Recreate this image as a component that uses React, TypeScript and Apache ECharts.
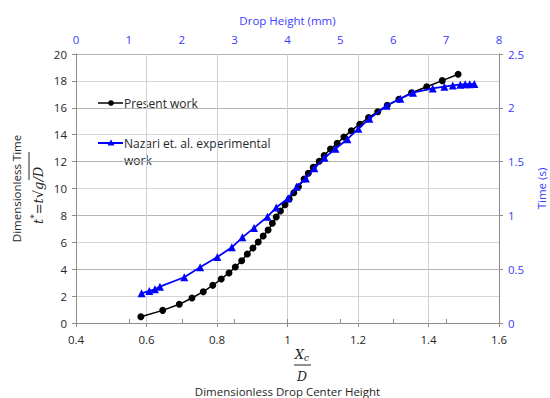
import React, { useEffect, useRef } from "react";
import * as echarts from "echarts";

// Present work: dimensionless center height (Xc/D) vs dimensionless time t*
const presentX = [0.584, 0.646, 0.693, 0.729, 0.761, 0.788, 0.812, 0.834, 0.852, 0.870, 0.886, 0.902, 0.917, 0.931, 0.945, 0.957, 0.968, 0.980, 0.993, 1.005, 1.018, 1.031, 1.047, 1.059, 1.073, 1.090, 1.104, 1.122, 1.141, 1.160, 1.181, 1.205, 1.230, 1.256, 1.283, 1.316, 1.352, 1.395, 1.439, 1.484];
const presentY = [0.47, 0.94, 1.39, 1.86, 2.33, 2.80, 3.27, 3.72, 4.16, 4.63, 5.13, 5.58, 6.02, 6.47, 6.91, 7.41, 7.88, 8.33, 8.80, 9.22, 9.69, 10.13, 10.70, 11.13, 11.58, 12.03, 12.45, 12.93, 13.36, 13.83, 14.30, 14.78, 15.27, 15.71, 16.19, 16.63, 17.12, 17.57, 18.02, 18.49];

// Nazari et al. experimental: drop height (mm) vs time (s)
const nazariMm = [1.24, 1.387, 1.493, 1.587, 2.047, 2.347, 2.673, 2.947, 3.147, 3.367, 3.62, 3.787, 4.013, 4.173, 4.347, 4.507, 4.70, 4.907, 5.133, 5.34, 5.547, 5.873, 6.133, 6.373, 6.747, 6.967, 7.127, 7.267, 7.36, 7.447, 7.533];
const nazariS = [0.276, 0.298, 0.313, 0.338, 0.425, 0.519, 0.613, 0.703, 0.796, 0.884, 0.988, 1.073, 1.159, 1.266, 1.343, 1.438, 1.535, 1.619, 1.708, 1.806, 1.898, 2.019, 2.084, 2.141, 2.18, 2.196, 2.208, 2.215, 2.219, 2.22, 2.221];

const seriesNames = ["Present work", "Nazari et. al. experimental\nwork"];
const xAxisTitle = "Dimensionless Drop Center Height";
const topAxisTitle = "Drop Height (mm)";
const leftAxisTitle = "Dimensionless Time";
const rightAxisTitle = "Time (s)";

const FONT = "'Open Sans', 'Noto Sans', sans-serif";
const SERIF = "'DejaVu Serif', 'Liberation Serif', serif";
const BLUE = "#0000ff";
const LBLUE = "#3b3bff";
const TXT = "#262626";

export default function App() {
  const ref = useRef<HTMLDivElement>(null);
  useEffect(() => {
    if (!ref.current) return;
    const chart = echarts.init(ref.current, undefined, { renderer: "svg" });
    const axisLine = { show: true, lineStyle: { color: "#8c8c8c", width: 1 } };
    const option: any = {
      animation: false,
      backgroundColor: "#ffffff",
      textStyle: { fontFamily: FONT },
      grid: { left: 76, right: 51, top: 54, bottom: 75, containLabel: false, outerBoundsMode: "none" },
      xAxis: [
        {
          type: "value", position: "bottom", min: 0.4, max: 1.6, interval: 0.2,
          name: xAxisTitle, nameLocation: "middle", nameGap: 62,
          nameTextStyle: { color: TXT, fontSize: 11.5, fontFamily: FONT },
          axisLine, axisTick: { show: true, length: 4, lineStyle: { color: "#8c8c8c" } },
          axisLabel: { color: TXT, fontSize: 11.5, fontFamily: FONT, margin: 10 },
          splitLine: { show: true, lineStyle: { color: "#cfcfcf", width: 1 } },
        },
        {
          type: "value", position: "top", min: 0, max: 8, interval: 1,
          name: topAxisTitle, nameLocation: "middle", nameGap: 28,
          nameTextStyle: { color: LBLUE, fontSize: 11.5, fontFamily: FONT },
          axisLine, axisTick: { show: true, length: 4, lineStyle: { color: "#8c8c8c" } },
          axisLabel: { color: LBLUE, fontSize: 11.5, fontFamily: FONT, margin: 9 },
          splitLine: { show: false },
        },
      ],
      yAxis: [
        {
          type: "value", position: "left", min: 0, max: 20, interval: 2,
          name: leftAxisTitle, nameLocation: "middle", nameGap: 54, nameRotate: 90,
          nameTextStyle: { color: TXT, fontSize: 11.5, fontFamily: FONT },
          axisLine, axisTick: { show: true, length: 4, lineStyle: { color: "#8c8c8c" } },
          axisLabel: { color: TXT, fontSize: 11.5, fontFamily: FONT, margin: 9 },
          splitLine: { show: true, lineStyle: { color: "#d6d6d6", width: 1 } },
        },
        {
          type: "value", position: "right", min: 0, max: 2.5, interval: 0.5,
          name: rightAxisTitle, nameLocation: "middle", nameGap: 36, nameRotate: 90,
          nameTextStyle: { color: LBLUE, fontSize: 11.5, fontFamily: FONT },
          axisLine, axisTick: { show: true, length: 4, lineStyle: { color: "#8c8c8c" } },
          axisLabel: { color: LBLUE, fontSize: 11.5, fontFamily: FONT, margin: 9 },
          splitLine: { show: true, lineStyle: { color: "#b4b4b4", width: 1 } },
        },
      ],
      series: [
        {
          name: seriesNames[0], type: "line", xAxisIndex: 0, yAxisIndex: 0,
          data: presentX.map((x, i) => [x, presentY[i]]),
          symbol: "circle", symbolSize: 7, showSymbol: true,
          lineStyle: { color: "#000000", width: 1.5 },
          itemStyle: { color: "#000000" }, z: 3,
        },
        {
          name: seriesNames[1], type: "line", xAxisIndex: 1, yAxisIndex: 1,
          data: nazariMm.map((x, i) => [x, nazariS[i]]),
          symbol: "triangle", symbolSize: 8, showSymbol: true,
          lineStyle: { color: BLUE, width: 1.8 },
          itemStyle: { color: BLUE }, z: 4,
        },
      ],
      graphic: [
        // legend
        { type: "line", shape: { x1: 98, y1: 103, x2: 123, y2: 103 }, style: { stroke: "#000", lineWidth: 1.5 } },
        { type: "circle", shape: { cx: 111, cy: 103, r: 2.8 }, style: { fill: "#000" } },
        { type: "text", x: 124, y: 103, style: { text: seriesNames[0], fill: TXT, font: `12px ${FONT}`, verticalAlign: "middle", align: "left" } },
        { type: "line", shape: { x1: 98, y1: 143, x2: 123, y2: 143 }, style: { stroke: BLUE, lineWidth: 2 } },
        { type: "polygon", shape: { points: [[111, 139.5], [114.5, 145.5], [107.5, 145.5]] }, style: { fill: BLUE } },
        { type: "text", x: 124, y: 135, style: { text: seriesNames[1], fill: TXT, font: `12px ${FONT}`, verticalAlign: "top", align: "left", lineHeight: 17 } },
        // bottom fraction Xc / D
        { type: "text", x: 302, y: 354, style: { text: "{x|X}{s|c}", verticalAlign: "middle", align: "center", rich: { x: { font: `italic 13px ${SERIF}`, fill: TXT }, s: { font: `italic 9px ${SERIF}`, fill: TXT, padding: [7, 0, 0, 0] } } } },
        { type: "line", shape: { x1: 294, y1: 365, x2: 311, y2: 365 }, style: { stroke: TXT, lineWidth: 1 } },
        { type: "text", x: 302, y: 376, style: { text: "D", font: `italic 12.5px ${SERIF}`, fill: TXT, verticalAlign: "middle", align: "center" } },
        // left formula t* = t sqrt(g/D)
        {
          type: "group", x: 38, y: 188, rotation: Math.PI / 2,
          children: [
            { type: "text", x: -36, y: 0, style: { text: "{i|t}{p|*}{n|=}{i|t}{n|√}{i|g/D}", verticalAlign: "middle", align: "left", rich: { i: { font: `italic 13px ${SERIF}`, fill: TXT }, p: { font: `9px ${SERIF}`, fill: TXT, padding: [0, 0, 8, 0] }, n: { font: `13px ${SERIF}`, fill: TXT } } } },
            { type: "line", shape: { x1: 8, y1: -9, x2: 36, y2: -9 }, style: { stroke: TXT, lineWidth: 1 } },
          ],
        },
      ],
    };
    chart.setOption(option);
    return () => chart.dispose();
  }, []);
  return <div ref={ref} style={{ width: 550, height: 398, position: "absolute", left: 0, top: 0 }} />;
}
